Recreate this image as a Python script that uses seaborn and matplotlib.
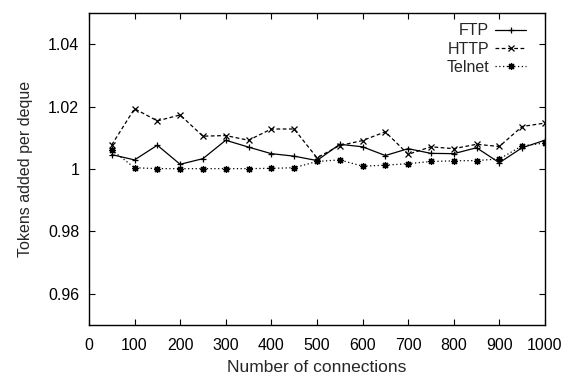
import matplotlib
matplotlib.use("Agg")
import matplotlib.pyplot as plt
import seaborn as sns
import pandas as pd

connections = [50, 100, 150, 200, 250, 300, 350, 400, 450, 500,
               550, 600, 650, 700, 750, 800, 850, 900, 950, 1000]
ftp = [1.0046, 1.0029, 1.0076, 1.0015, 1.0033, 1.0092, 1.0070, 1.0049, 1.0041, 1.0027,
       1.0079, 1.0071, 1.0043, 1.0065, 1.0050, 1.0049, 1.0068, 1.0020, 1.0068, 1.0092]
http = [1.0077, 1.0193, 1.0154, 1.0173, 1.0105, 1.0107, 1.0092, 1.0128, 1.0128, 1.0036,
        1.0075, 1.0091, 1.0119, 1.0047, 1.0071, 1.0065, 1.0079, 1.0072, 1.0136, 1.0147]
telnet = [1.0061, 1.0004, 1.0001, 1.0001, 1.0001, 1.0001, 1.0001, 1.0002, 1.0004, 1.0024,
          1.0029, 1.0009, 1.0012, 1.0017, 1.0024, 1.0026, 1.0027, 1.0032, 1.0074, 1.0083]

series_names = ["FTP", "HTTP", "Telnet"]
x_ticks = [0, 100, 200, 300, 400, 500, 600, 700, 800, 900, 1000]
y_ticks = [0.96, 0.98, 1.0, 1.02, 1.04]
y_tick_labels = ["0.96", "0.98", "1", "1.02", "1.04"]

sns.set_style("ticks")
plt.rcParams['font.family'] = ['Liberation Sans', 'DejaVu Sans']

fig = plt.figure(figsize=(5.7, 3.78), dpi=100)
ax = fig.add_axes([0.156, 0.140, 0.800, 0.826])

styles = {
    "FTP": dict(marker="+", dashes=None, ms=5),
    "HTTP": dict(marker="x", dashes=(3, 2), ms=4),
    "Telnet": dict(marker=(8, 2, 0), dashes=(1, 2), ms=5),
}

for name, vals in zip(series_names, [ftp, http, telnet]):
    df = pd.DataFrame({"x": connections, "y": vals})
    st = styles[name]
    sns.lineplot(data=df, x="x", y="y", ax=ax, color="black", lw=0.9,
                 marker=st["marker"], markersize=st["ms"],
                 markeredgewidth=0.9, markeredgecolor="black",
                 label=name)
    l = ax.get_lines()[-1]
    if st["dashes"] is not None:
        l.set_dashes(st["dashes"])

ax.set_xlim(0, 1000)
ax.set_ylim(0.95, 1.05)
ax.set_xticks(x_ticks)
ax.set_yticks(y_ticks)
ax.set_yticklabels(y_tick_labels)
ax.tick_params(direction="in", length=4, width=0.8, top=True, right=True,
               labelsize=11.5, pad=7, colors="black")
ax.tick_params(axis="x", pad=9)
for s in ax.spines.values():
    s.set_linewidth(1.0)
    s.set_color("black")
ax.set_xlabel("Number of connections", fontsize=12.5, labelpad=5)
ax.set_ylabel("Tokens added per deque", fontsize=11.5, labelpad=11)

handles, labels = ax.get_legend_handles_labels()
ax.legend(handles, labels, loc="upper right", frameon=False, markerfirst=False,
          fontsize=11.5, handlelength=1.9, handletextpad=0.4, labelspacing=0.2,
          bbox_to_anchor=(0.958, 0.966), borderaxespad=0, borderpad=0)

fig.savefig("out.png", dpi=100)
